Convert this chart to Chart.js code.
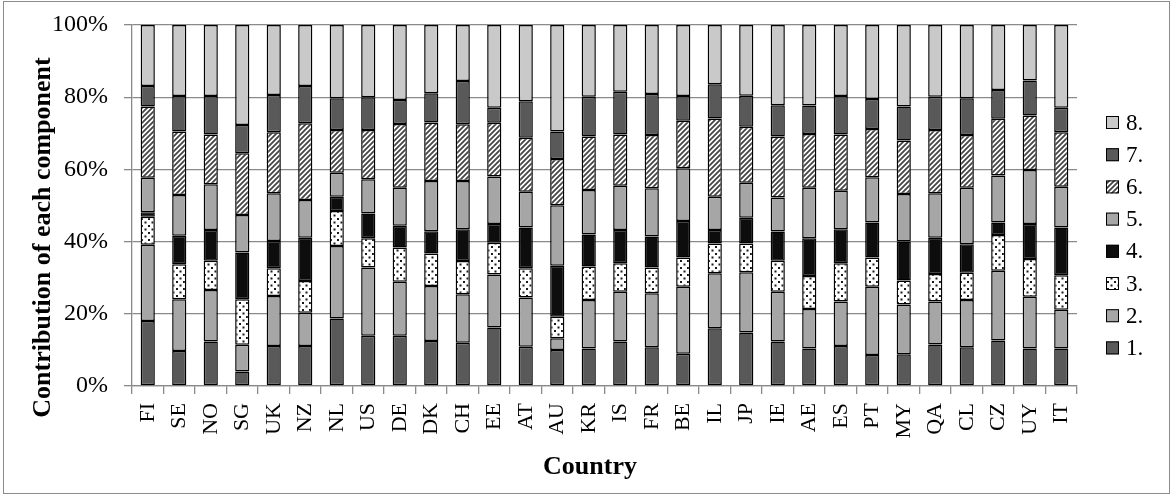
<!DOCTYPE html>
<html>
<head>
<meta charset="utf-8">
<script src="https://cdn.jsdelivr.net/npm/chart.js@4.4.1/dist/chart.umd.min.js"></script>
<style>
  html, body { margin: 0; padding: 0; background: #fff; }
  #wrap { position: relative; width: 1172px; height: 497px; }
  #frame { position: absolute; left: 3px; top: 1px; width: 1165px; height: 491px; border: 1px solid #8c8c8c; pointer-events: none; }
</style>
</head>
<body>
<div id="wrap">
  <canvas id="grafico" width="1172" height="497"></canvas>
  <div id="frame"></div>
</div>
<script>
const paises = ['FI','SE','NO','SG','UK','NZ','NL','US','DE','DK','CH','EE','AT','AU','KR','IS','FR','BE','IL','JP','IE','AE','ES','PT','MY','QA','CL','CZ','UY','IT'];

// share of each component (%), one value per country
const comp1 = [18.0, 9.7, 12.3, 4.0, 11.1, 11.1, 18.7, 13.9, 13.9, 12.5, 12.0, 16.2, 10.9, 10.0, 10.4, 12.3, 10.7, 8.9, 16.0, 14.8, 12.3, 10.4, 11.1, 8.6, 8.8, 11.5, 10.7, 12.6, 10.4, 10.4];
const comp2 = [21.1, 14.3, 14.3, 7.4, 13.8, 9.2, 20.1, 18.9, 15.0, 15.2, 13.4, 14.7, 13.6, 3.2, 13.4, 13.8, 15.0, 18.6, 15.2, 16.7, 13.8, 10.9, 12.3, 18.9, 13.8, 11.9, 13.1, 19.3, 14.3, 10.7];
const comp3 = [7.8, 9.7, 8.1, 12.6, 7.7, 8.8, 9.7, 8.1, 9.5, 9.0, 9.2, 8.8, 8.1, 6.0, 9.3, 7.9, 7.1, 8.1, 8.3, 8.0, 8.6, 9.2, 10.6, 8.1, 6.6, 7.6, 7.6, 9.9, 10.5, 9.6];
const comp4 = [1.2, 7.9, 8.5, 13.0, 7.6, 12.0, 3.9, 6.9, 6.0, 6.2, 8.8, 5.2, 11.3, 14.1, 8.9, 9.2, 8.6, 10.1, 3.7, 7.1, 8.1, 10.4, 9.4, 9.7, 10.8, 10.1, 7.9, 3.5, 9.7, 13.2];
const comp5 = [9.6, 11.3, 12.7, 10.4, 13.2, 10.4, 6.7, 9.5, 10.5, 13.9, 13.4, 13.1, 9.9, 16.8, 12.3, 12.3, 13.4, 14.6, 9.2, 9.7, 9.4, 14.0, 10.7, 12.5, 13.2, 12.3, 15.6, 13.0, 14.9, 11.3];
const comp6 = [19.7, 17.6, 13.8, 17.1, 16.9, 21.3, 11.8, 13.6, 17.7, 16.2, 15.7, 14.9, 15.0, 12.8, 14.8, 14.2, 14.7, 13.2, 21.7, 15.5, 16.9, 14.9, 15.6, 13.4, 14.8, 17.5, 14.6, 15.7, 15.1, 15.1];
const comp7 = [5.7, 9.8, 10.6, 7.8, 10.3, 10.3, 8.8, 9.1, 6.6, 8.1, 12.0, 4.2, 10.1, 7.6, 11.0, 11.8, 11.4, 6.8, 9.5, 8.6, 8.7, 7.9, 10.6, 8.3, 9.4, 9.2, 10.2, 8.0, 9.7, 6.8];
const comp8 = [16.9, 19.7, 19.7, 27.7, 19.4, 16.9, 20.3, 20.0, 20.8, 18.9, 15.5, 22.9, 21.1, 29.5, 19.9, 18.5, 19.1, 19.7, 16.4, 19.6, 22.2, 22.3, 19.7, 20.5, 22.6, 19.9, 20.3, 18.0, 15.4, 22.9];

const nomesComp = ['1.', '2.', '3.', '4.', '5.', '6.', '7.', '8.'];
const ticksY = [0, 20, 40, 60, 80, 100];

const fonte = '"Liberation Serif", "Times New Roman", serif';

function padraoPontos() {
  const c = document.createElement('canvas');
  c.width = 7; c.height = 7;
  const g = c.getContext('2d');
  g.fillStyle = '#fff';
  g.fillRect(0, 0, 7, 7);
  g.fillStyle = '#1a1a1a';
  g.fillRect(1, 1, 2, 2);
  g.fillRect(4.5, 4.5, 2, 2);
  return g.createPattern(c, 'repeat');
}

function padraoListras() {
  const c = document.createElement('canvas');
  c.width = 5; c.height = 5;
  const g = c.getContext('2d');
  g.fillStyle = '#fff';
  g.fillRect(0, 0, 5, 5);
  g.strokeStyle = '#454545';
  g.lineWidth = 1.8;
  g.beginPath();
  g.moveTo(-1, 6); g.lineTo(6, -1);
  g.moveTo(-1, 1); g.lineTo(1, -1);
  g.moveTo(4, 6); g.lineTo(6, 4);
  g.stroke();
  return g.createPattern(c, 'repeat');
}

const cores = ['#595959', '#a6a6a6', padraoPontos(), '#0d0d0d', '#a6a6a6', padraoListras(), '#595959', '#c9c9c9'];
const series = [comp1, comp2, comp3, comp4, comp5, comp6, comp7, comp8];

const datasets = series.map((valores, i) => ({
  label: nomesComp[i],
  data: valores,
  backgroundColor: cores[i],
  borderColor: '#000',
  borderWidth: 1.5,
  borderSkipped: false,
  barPercentage: 0.45,
  categoryPercentage: 1
}));

// legend drawn at the right, 8. on top
const legendaLateral = {
  id: 'legendaLateral',
  afterDraw(chart) {
    const { ctx, chartArea } = chart;
    const sets = chart.data.datasets;
    ctx.save();
    ctx.font = '23px ' + fonte;
    ctx.textBaseline = 'middle';
    const x = chartArea.right + 29;
    let y = chartArea.top + 97.5;
    for (let i = sets.length - 1; i >= 0; i--) {
      ctx.fillStyle = sets[i].backgroundColor;
      ctx.fillRect(x, y - 6.5, 13, 13);
      ctx.strokeStyle = '#000';
      ctx.lineWidth = 1;
      ctx.strokeRect(x + 0.5, y - 6, 12, 12);
      ctx.fillStyle = '#000';
      ctx.fillText(sets[i].label, x + 20, y + 1);
      y += 32.2;
    }
    ctx.restore();
  }
};

// axis titles
const titulosEixos = {
  id: 'titulosEixos',
  afterDraw(chart) {
    const { ctx, chartArea } = chart;
    ctx.save();
    ctx.font = 'bold 26px ' + fonte;
    ctx.fillStyle = '#000';
    ctx.textAlign = 'center';
    ctx.textBaseline = 'middle';
    ctx.fillText('Country', chartArea.left + 458, chartArea.bottom + 81);
    ctx.translate(chartArea.left - 89, chartArea.top + 212.5);
    ctx.rotate(-Math.PI / 2);
    ctx.fillText('Contribution of each component', 0, 0);
    ctx.restore();
  }
};

new Chart(document.getElementById('grafico'), {
  type: 'bar',
  data: { labels: paises, datasets },
  plugins: [legendaLateral, titulosEixos],
  options: {
    responsive: false,
    animation: false,
    layout: { padding: { left: 0, right: 95, top: 25, bottom: 0 } },
    plugins: {
      legend: { display: false },
      tooltip: { enabled: false }
    },
    scales: {
      x: {
        stacked: true,
        afterFit: s => { s.height = 111; },
        grid: { offset: true, drawOnChartArea: false, drawTicks: true, tickLength: 8, color: '#8a8a8a', lineWidth: 1.3 },
        border: { color: '#8a8a8a', width: 1.3 },
        ticks: { autoSkip: false, minRotation: 90, maxRotation: 90, padding: 9, color: '#000', font: { family: fonte, size: 22 } }
      },
      y: {
        stacked: true,
        min: 0,
        max: 100,
        afterFit: s => { s.width = 132; s.paddingTop = 0; s.paddingBottom = 0; },
        afterBuildTicks: s => { s.ticks = ticksY.map(v => ({ value: v })); },
        grid: { color: '#8a8a8a', lineWidth: 1.3, tickLength: 8 },
        border: { color: '#8a8a8a', width: 1.3 },
        ticks: { padding: 16, color: '#000', font: { family: fonte, size: 24 }, callback: v => v + '%' }
      }
    }
  }
});
</script>
</body>
</html>
